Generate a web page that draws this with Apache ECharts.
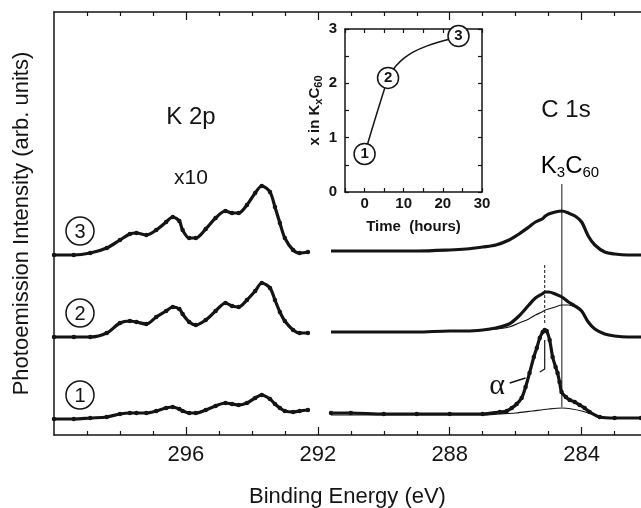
<!DOCTYPE html>
<html>
<head>
<meta charset="utf-8">
<script src="https://cdn.jsdelivr.net/npm/echarts@6/dist/echarts.min.js"></script>
<style>
  html, body { margin: 0; padding: 0; background: #fff; }
  #chart { width: 641px; height: 508px; }
</style>
</head>
<body>
<div id="chart"></div>
<script>
// K 2p region (x10), shared energy grid for the three spectra
const k2pEnergy = [300.0, 299.4, 298.9, 298.4, 298.0, 297.7, 297.5, 297.2, 296.9, 296.6, 296.4, 296.2, 296.1, 295.9, 295.7,
  295.4, 295.1, 294.8, 294.6, 294.4, 294.15, 293.9, 293.7, 293.45, 293.3, 293.15, 293.0, 292.75, 292.55, 292.3];
const k2pSpec1 = [16, 16, 17, 18, 21, 22, 22, 22, 24, 27, 28, 26, 24, 22, 22, 25, 29, 32, 31, 30, 32, 37, 40, 36, 31, 27, 24, 23, 24, 25];
const k2pSpec2 = [98, 98, 98, 102, 112, 114, 113, 111, 118, 124, 128, 126, 121, 113, 110, 115, 124, 132, 129, 128, 135, 144, 152, 147, 135, 123, 114, 105, 102, 102];
const k2pSpec3 = [180, 180, 182, 187, 195, 201, 202, 200, 205, 213, 218, 214, 205, 197, 197, 206, 217, 224, 222, 222, 230, 242, 249, 243, 228, 212, 197, 185, 182, 183];

// C 1s region
const c1sEnergy = [291.6, 291.0, 290.0, 289.0, 288.0, 287.5, 287.0, 286.6, 286.2, 285.9, 285.6, 285.4, 285.2, 285.1, 285.0,
  284.8, 284.6, 284.4, 284.2, 284.0, 283.8, 283.6, 283.3, 283.0, 282.6, 282.2];
const c1sSpec3 = [184, 184, 184, 184, 185, 186, 188, 190, 195, 201, 208, 213, 216, 219, 221, 223, 224, 222, 219, 213, 199, 190, 183, 181, 180, 180];
const c1sSpec2 = [103, 103, 103, 103, 104, 104, 105, 107, 111, 119, 130, 137, 141, 143, 143, 141, 138, 133, 129, 124, 113, 106, 101, 99, 98, 98];
const c1sSpec2Fit = [103, 103, 103, 103, 104, 104, 105, 106, 108, 112, 116, 120, 123, 125, 126, 128, 130, 130, 128, 124, 113, 106, 101, 99, 98, 98];

const c1sSpec1Energy = [291.6, 291.0, 290.0, 289.0, 288.0, 287.0, 286.48, 286.27, 286.12, 285.97, 285.82, 285.70, 285.58, 285.45,
  285.36, 285.27, 285.18, 285.12, 285.06, 284.97, 284.88, 284.79, 284.73, 284.67, 284.61, 284.48, 284.36, 284.21, 284.06,
  283.91, 283.76, 283.45, 283.0, 282.2];
const c1sSpec1 = [22, 22, 21, 21, 21, 21, 23, 24, 27, 31, 37, 48, 62, 78, 87, 97, 103, 105, 104, 95, 78, 68, 62, 53, 43, 38, 35,
  33, 30, 27, 23, 18, 17, 17];
const c1sSpec1FitEnergy = [291.6, 290.0, 288.0, 287.0, 286.5, 286.0, 285.5, 285.0, 284.6, 284.3, 284.0, 283.7, 283.4, 283.0, 282.2];
const c1sSpec1Fit = [20, 20, 20, 20, 21, 22, 24, 26, 27, 26, 24, 21, 18, 17, 17];

// marker lines [energy, intensity]
const k3c60Marker = [[284.6, 28], [284.6, 251]];
const alphaDashed = [[285.12, 170], [285.12, 110]];
const alphaBracket = [[285.12, 95], [285.12, 66], [285.27, 63]];
const alphaLeader = [[286.18, 52], [285.70, 57]];

// inset: x in KxC60 vs time
const insetTime = [0, 6, 7, 8, 10, 12.5, 16, 19.5, 22.5, 24];
const insetX = [0.7, 2.1, 2.22, 2.32, 2.46, 2.58, 2.69, 2.77, 2.83, 2.87];
const sampleTime = [0, 6, 24];
const sampleX = [0.7, 2.1, 2.87];
const sampleLabels = ["1", "2", "3"];

const majorTicks = [284, 288, 292, 296];
const minorTicks = [283, 285, 286, 287, 289, 290, 291, 293, 294, 295, 297, 298, 299];

const ink = "#141414";
const font = "Liberation Sans, Arial, Helvetica, sans-serif";

function zip(xs, ys) {
  return xs.map((x, i) => [x, ys[i]]);
}

const chart = echarts.init(document.getElementById("chart"));

const mainRect = { left: 54, top: 12, right: 0, bottom: 73, containLabel: false, outerBoundsMode: "none" };

function energyAxis(grid, position, ticks, len, extra) {
  return Object.assign({
    gridIndex: grid,
    type: "value",
    position: position,
    inverse: true,
    min: 282.2,
    max: 300,
    axisLine: { show: true, onZero: false, lineStyle: { color: ink, width: 1.5 } },
    axisTick: { show: true, inside: true, length: len, customValues: ticks, lineStyle: { color: ink, width: 1.2 } },
    axisLabel: { show: false },
    splitLine: { show: false }
  }, extra || {});
}

function thick(name, data, dots) {
  return {
    name: name,
    type: "line",
    xAxisIndex: 0,
    yAxisIndex: 0,
    data: data,
    smooth: 0.3,
    showSymbol: !!dots,
    showAllSymbol: true,
    symbol: "circle",
    symbolSize: 4.5,
    itemStyle: { color: ink },
    lineStyle: { color: ink, width: 3.2 },
    z: 3
  };
}

function thin(name, data, width, type) {
  return {
    name: name,
    type: "line",
    xAxisIndex: 0,
    yAxisIndex: 0,
    data: data,
    smooth: 0.3,
    showSymbol: false,
    lineStyle: { color: ink, width: width || 1.2, type: type || "solid" },
    z: 4
  };
}

function circled(x, y, label) {
  return {
    type: "group",
    children: [
      { type: "circle", shape: { cx: x, cy: y, r: 14 }, style: { fill: "#fff", stroke: ink, lineWidth: 1.5 } },
      { type: "text", x: x, y: y + 1, style: { text: label, fill: ink, font: "20px " + font, align: "center", verticalAlign: "middle" } }
    ]
  };
}

const option = {
  animation: false,
  backgroundColor: "#fff",
  grid: [
    Object.assign({}, mainRect),
    Object.assign({}, mainRect),
    {
      left: 345, top: 29, width: 137, height: 163, show: true, backgroundColor: "#fff", borderWidth: 0,
      containLabel: false, outerBoundsMode: "none"
    }
  ],
  xAxis: [
    energyAxis(0, "bottom", majorTicks, 8, {
      axisLabel: { show: true, customValues: majorTicks, fontSize: 22, margin: 9, color: ink, fontFamily: font },
      name: "Binding Energy (eV)",
      nameLocation: "middle",
      nameGap: 51,
      nameTextStyle: { fontSize: 22, color: ink, fontFamily: font }
    }),
    energyAxis(0, "top", majorTicks, 8),
    energyAxis(1, "bottom", minorTicks, 4, { axisLine: { show: false } }),
    energyAxis(1, "top", minorTicks, 4, { axisLine: { show: false } }),
    {
      gridIndex: 2, type: "value", position: "bottom", min: -5, max: 30, interval: 5,
      axisLine: { onZero: false, lineStyle: { color: ink, width: 1.5 } },
      axisTick: { inside: true, length: 4, lineStyle: { color: ink, width: 1.2 } },
      axisLabel: {
        margin: 4, fontSize: 15, fontWeight: "bold", color: ink, fontFamily: font,
        formatter: (v) => (v % 10 === 0 ? String(v) : "")
      },
      splitLine: { show: false },
      name: "Time  (hours)", nameLocation: "middle", nameGap: 27,
      nameTextStyle: { fontSize: 15, fontWeight: "bold", color: ink, fontFamily: font }
    },
    {
      gridIndex: 2, type: "value", position: "top", min: -5, max: 30, interval: 5,
      axisLine: { onZero: false, lineStyle: { color: ink, width: 1.5 } },
      axisTick: { inside: true, length: 4, lineStyle: { color: ink, width: 1.2 } },
      axisLabel: { show: false },
      splitLine: { show: false }
    }
  ],
  yAxis: [
    {
      gridIndex: 0, type: "value", min: 0, max: 423,
      axisLine: { show: true, onZero: false, lineStyle: { color: ink, width: 1.5 } },
      axisTick: { show: false },
      axisLabel: { show: false },
      splitLine: { show: false },
      name: "Photoemission Intensity (arb. units)",
      nameLocation: "middle",
      nameRotate: 90,
      nameGap: 21,
      nameTextStyle: { fontSize: 22, color: ink, fontFamily: font }
    },
    { gridIndex: 1, type: "value", min: 0, max: 423, show: false },
    {
      gridIndex: 2, type: "value", position: "left", min: 0, max: 3, interval: 0.5,
      axisLine: { show: true, onZero: false, lineStyle: { color: ink, width: 1.5 } },
      axisTick: { inside: true, length: 4, lineStyle: { color: ink, width: 1.2 } },
      axisLabel: {
        margin: 8, fontSize: 15, fontWeight: "bold", color: ink, fontFamily: font,
        formatter: (v) => (Number.isInteger(v) ? String(v) : "")
      },
      splitLine: { show: false },
      name: "{m|x in K}{s|x}{m|C}{s|60}",
      nameLocation: "middle",
      nameRotate: 90,
      nameGap: 20,
      nameTextStyle: {
        rich: {
          m: { fontSize: 15, fontWeight: "bold", color: ink, fontFamily: font, lineHeight: 20 },
          s: { fontSize: 11, fontWeight: "bold", color: ink, fontFamily: font, verticalAlign: "bottom", lineHeight: 11 }
        }
      }
    },
    {
      gridIndex: 2, type: "value", position: "right", min: 0, max: 3, interval: 0.5,
      axisLine: { show: true, onZero: false, lineStyle: { color: ink, width: 1.5 } },
      axisTick: { inside: true, length: 4, lineStyle: { color: ink, width: 1.2 } },
      axisLabel: { show: false },
      splitLine: { show: false }
    }
  ],
  series: [
    thick("K 2p (1)", zip(k2pEnergy, k2pSpec1), true),
    thick("K 2p (2)", zip(k2pEnergy, k2pSpec2), true),
    thick("K 2p (3)", zip(k2pEnergy, k2pSpec3), true),
    thick("C 1s (1)", zip(c1sSpec1Energy, c1sSpec1), true),
    thin("C 1s (1) K3C60 part", zip(c1sSpec1FitEnergy, c1sSpec1Fit)),
    thick("C 1s (2)", zip(c1sEnergy, c1sSpec2), false),
    thin("C 1s (2) K3C60 part", zip(c1sEnergy, c1sSpec2Fit)),
    thick("C 1s (3)", zip(c1sEnergy, c1sSpec3), false),
    Object.assign(thin("K3C60 line", k3c60Marker, 1), { smooth: false }),
    Object.assign(thin("alpha dashed", alphaDashed, 1, [3, 2]), { smooth: false }),
    Object.assign(thin("alpha bracket", alphaBracket, 1.2), { smooth: false }),
    Object.assign(thin("alpha leader", alphaLeader, 1.5), { smooth: false }),
    {
      name: "x vs time",
      type: "line",
      xAxisIndex: 4,
      yAxisIndex: 2,
      data: zip(insetTime, insetX),
      smooth: 0.35,
      showSymbol: false,
      lineStyle: { color: ink, width: 1.5 },
      z: 3
    },
    {
      name: "samples",
      type: "scatter",
      xAxisIndex: 4,
      yAxisIndex: 2,
      data: zip(sampleTime, sampleX),
      symbol: "circle",
      symbolSize: 21,
      itemStyle: { color: "#fff", borderColor: ink, borderWidth: 1.5, opacity: 1 },
      label: {
        show: true,
        position: "inside",
        formatter: (p) => sampleLabels[p.dataIndex],
        fontSize: 15,
        fontWeight: "bold",
        color: ink,
        fontFamily: font
      },
      clip: false,
      z: 5
    }
  ],
  graphic: [
    { type: "text", x: 191, y: 117, style: { text: "K 2p", fill: ink, font: "24px " + font, align: "center", verticalAlign: "middle" } },
    { type: "text", x: 191, y: 178, style: { text: "x10", fill: ink, font: "21px " + font, align: "center", verticalAlign: "middle" } },
    { type: "text", x: 566, y: 110, style: { text: "C 1s", fill: ink, font: "24px " + font, align: "center", verticalAlign: "middle" } },
    {
      type: "text", x: 570, y: 166,
      style: {
        text: "{m|K}{s|3}{m|C}{s|60}",
        align: "center",
        verticalAlign: "middle",
        rich: {
          m: { fontSize: 24, color: ink, fontFamily: font, lineHeight: 28 },
          s: { fontSize: 15, color: ink, fontFamily: font, verticalAlign: "bottom", lineHeight: 15 }
        }
      }
    },
    { type: "text", x: 497, y: 386, style: { text: "α", fill: ink, font: "30px Liberation Serif, DejaVu Serif, serif", align: "center", verticalAlign: "middle" } },
    circled(80, 231, "3"),
    circled(80, 313, "2"),
    circled(80, 395, "1")
  ]
};

chart.setOption(option);
</script>
</body>
</html>
